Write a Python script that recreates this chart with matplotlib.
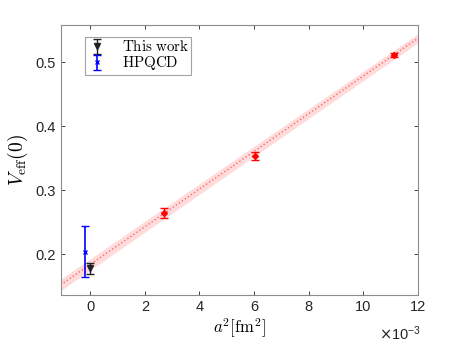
import numpy as np
import matplotlib
matplotlib.use("Agg")
import matplotlib.pyplot as plt

plt.rcParams['mathtext.fontset'] = 'cm'
plt.rcParams['font.family'] = ['Liberation Sans', 'DejaVu Sans']

# data (a^2 in units of 1e-3 fm^2)
work_x = [0.0]
work_y = [0.178]
work_err = [0.0085]

hpqcd_x = [-0.18]
hpqcd_y = [0.204]
hpqcd_err = [0.040]

lat_x = [2.72, 6.04, 11.12]
lat_y = [0.264, 0.353, 0.511]
lat_err = [0.008, 0.006, 0.003]

# linear fit band
fit_x = [-1.08, 12.0]
fit_mid = [0.152, 0.5375]
fit_half = [0.009, 0.007]

fig = plt.figure(figsize=(4.63, 3.48), dpi=100)
ax = fig.add_axes([0.131, 0.152, 0.772, 0.776])

fx = np.linspace(fit_x[0], fit_x[1], 100)
fm = np.interp(fx, fit_x, fit_mid)
fh = np.interp(fx, fit_x, fit_half)
ax.fill_between(fx * 1e-3, fm - fh, fm + fh, color='#ffcccc', alpha=0.7, lw=0)
ax.plot(fx * 1e-3, fm, ':', color='#ff6666', lw=1.0)

ax.errorbar(np.array(lat_x) * 1e-3, lat_y, yerr=lat_err, fmt='D', color='red',
            ms=3, capsize=3, elinewidth=1, capthick=1)
ax.errorbar(np.array(work_x) * 1e-3, work_y, yerr=work_err, fmt='v', color='#222222',
            ms=4, capsize=3, elinewidth=1, capthick=1, label=r'$\mathrm{This\ work}$')
ax.errorbar(np.array(hpqcd_x) * 1e-3, hpqcd_y, yerr=hpqcd_err, fmt='x', color='blue',
            ms=3, mew=1, capsize=3, elinewidth=1.2, capthick=1, label=r'$\mathrm{HPQCD}$')

ax.set_xlim(-1.08e-3, 12e-3)
ax.set_ylim(0.136, 0.558)
ax.set_xticks(np.arange(0, 13, 2) * 1e-3)
ax.set_xticklabels([str(v) for v in range(0, 13, 2)])
ax.set_yticks([0.2, 0.3, 0.4, 0.5])
ax.set_yticklabels(['0.2', '0.3', '0.4', '0.5'])
ax.tick_params(direction='in', top=True, right=True, labelsize=10.5, colors='#262626',
               length=3, width=0.6)
for s in ax.spines.values():
    s.set_color('#8c8c8c')
    s.set_linewidth(0.8)

ax.set_xlabel(r'$a^2[\mathrm{fm}^2]$', fontsize=12, labelpad=2)
ax.set_ylabel(r'$V_{\mathrm{eff}}(0)$', fontsize=14, labelpad=4)
fig.text(0.818, 0.022, r'$\times\mathregular{10^{-3}}$', fontsize=10.5, color='#262626',
         math_fontfamily='dejavusans')

leg = ax.legend(loc='upper left', bbox_to_anchor=(0.068, 0.955), fontsize=10.8,
                frameon=True, fancybox=False, handlelength=1.3, borderpad=0.15,
                labelspacing=0.0, handletextpad=1.0, borderaxespad=0)
leg.get_frame().set_edgecolor('#8c8c8c')
leg.get_frame().set_linewidth(0.8)

fig.savefig('out.png', dpi=100)
